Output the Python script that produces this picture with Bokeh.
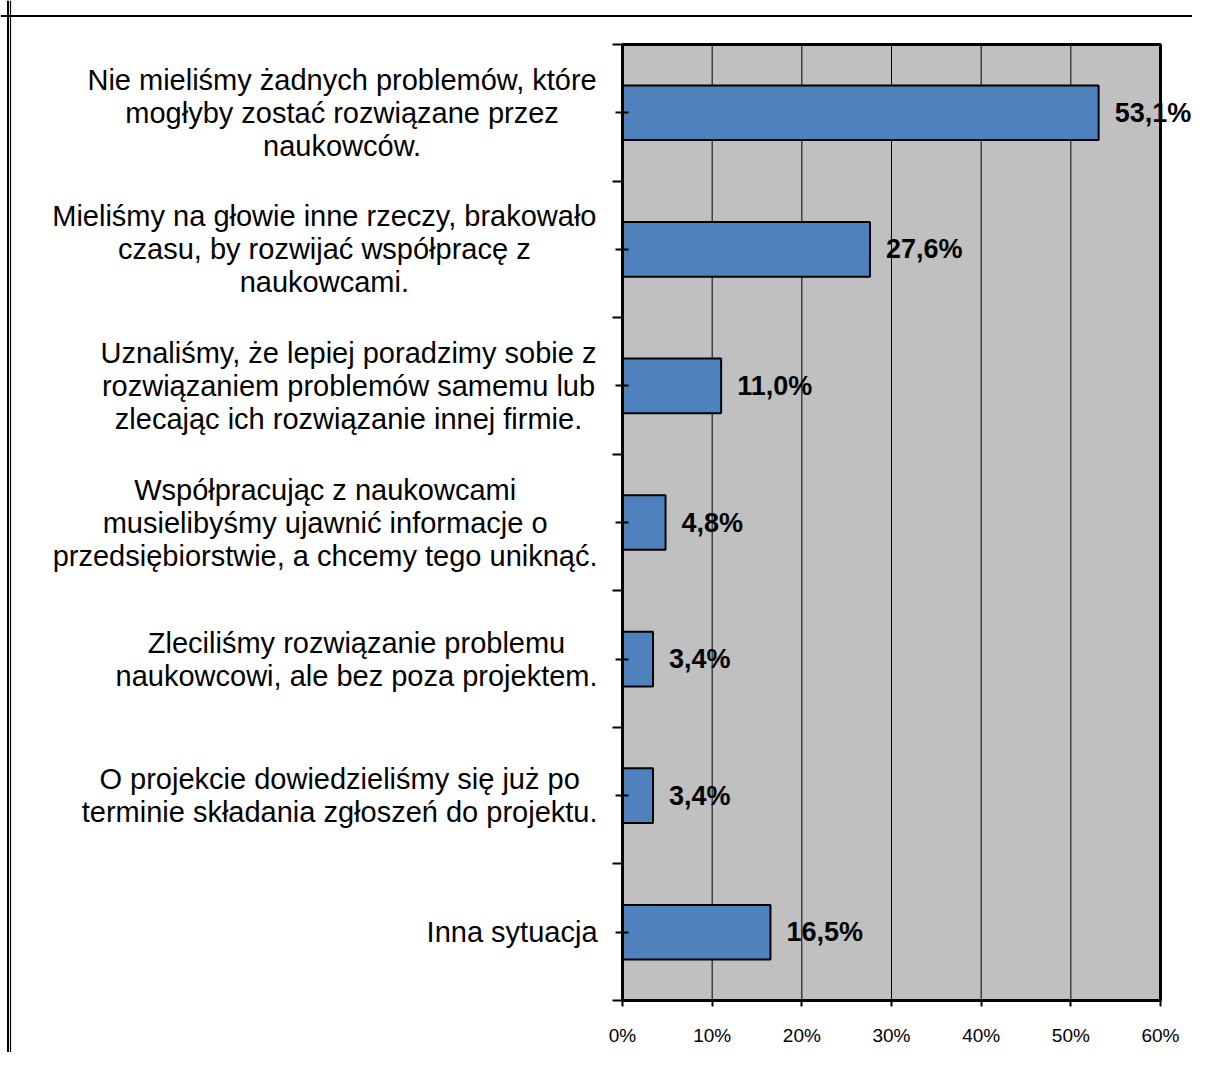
import numpy as np
from bokeh.plotting import figure
from bokeh.models import Range1d, FixedTicker, LinearAxis, Span, ColumnDataSource
from bokeh.core.properties import value
from bokeh.embed import file_html
from bokeh.resources import INLINE

# ---------------- data ----------------
categories = [
    "Nie mieliśmy żadnych problemów, które\nmogłyby zostać rozwiązane przez\nnaukowców.",
    "Mieliśmy na głowie inne rzeczy, brakowało\nczasu, by rozwijać współpracę z\nnaukowcami.",
    "Uznaliśmy, że lepiej poradzimy sobie z\nrozwiązaniem problemów samemu lub\nzlecając ich rozwiązanie innej firmie.",
    "Współpracując z naukowcami\nmusielibyśmy ujawnić informacje o\nprzedsiębiorstwie, a chcemy tego uniknąć.",
    "Zleciliśmy rozwiązanie problemu\nnaukowcowi, ale bez poza projektem.",
    "O projekcie dowiedzieliśmy się już po\nterminie składania zgłoszeń do projektu.",
    "Inna sytuacja",
]
values = [53.1, 27.6, 11.0, 4.8, 3.4, 3.4, 16.5]
value_labels = ["53,1%", "27,6%", "11,0%", "4,8%", "3,4%", "3,4%", "16,5%"]
x_ticks = [0, 10, 20, 30, 40, 50, 60]
x_tick_labels = ["0%", "10%", "20%", "30%", "40%", "50%", "60%"]

# ---------------- layout / style ----------------
FONT = "Liberation Sans"
CAT_SIZE = 29
BAR_COLOR = "#4F81BD"
BG = "#C0C0C0"
WIDTH, HEIGHT = 1192, 1052
# pixel box of the plotting area inside the canvas
PX_L, PX_R, PX_T, PX_B = 622, 1160, 44, 1000

n = len(categories)
xmin, xmax = x_ticks[0], x_ticks[-1]
ux = (PX_R - PX_L) / (xmax - xmin)      # px per x unit
uy = (PX_B - PX_T) / n                  # px per category
x_start = xmin - PX_L / ux
x_end = xmax + (WIDTH - PX_R) / ux
y_top = -PX_T / uy
y_bottom = n + (HEIGHT - PX_B) / uy

# Helvetica/Arial advance widths (per 1000 em) to estimate label block widths
W = {' ': 278, ',': 278, '.': 278, 'a': 556, 'b': 556, 'c': 500, 'd': 556, 'e': 556,
     'f': 278, 'g': 556, 'h': 556, 'i': 222, 'j': 222, 'k': 500, 'l': 222, 'm': 833,
     'n': 556, 'o': 556, 'p': 556, 'q': 556, 'r': 333, 's': 500, 't': 278, 'u': 556,
     'v': 500, 'w': 722, 'x': 500, 'y': 500, 'z': 500, 'ś': 500, 'ż': 500, 'ź': 500,
     'ą': 556, 'ę': 556, 'ć': 500, 'ł': 222, 'ń': 556, 'ó': 556,
     'N': 722, 'M': 833, 'U': 722, 'W': 944, 'Z': 611, 'O': 778, 'I': 278}


def text_width(s, size):
    return sum(W.get(ch, 556) for ch in s) / 1000.0 * size


ypos = np.arange(n) + 0.5

p = figure(width=WIDTH, height=HEIGHT, output_backend="svg", toolbar_location=None,
           x_range=Range1d(x_start, x_end), y_range=Range1d(y_bottom, y_top),
           x_axis_location=None, y_axis_location=None,
           min_border_left=0, min_border_right=0, min_border_top=0, min_border_bottom=0)
p.background_fill_color = "white"
p.border_fill_color = "white"
p.outline_line_color = None
p.grid.visible = False

# outer chart frame (top line, double left line)
p.add_layout(Span(location=(15.5 - PX_T) / uy, dimension="width", line_color="black", line_width=2))
p.add_layout(Span(location=xmin + (7.5 - PX_L) / ux, dimension="height", line_color="black", line_width=2))
p.add_layout(Span(location=xmin + (10 - PX_L) / ux, dimension="height", line_color="black", line_width=1.2))

# plot area
p.quad(left=xmin, right=xmax, top=0, bottom=n, fill_color=BG, line_color=None)
inner = x_ticks[1:-1]
p.segment(x0=inner, y0=[0] * len(inner), x1=inner, y1=[n] * len(inner),
          line_color="black", line_width=1)
p.quad(left=xmin, right=xmax, top=0, bottom=n, fill_color=None,
       line_color="black", line_width=3)

p.hbar(y=ypos, left=0, right=values, height=0.4, fill_color=BAR_COLOR,
       line_color="black", line_width=2)

# x axis
xa = LinearAxis(fixed_location=n, bounds=(xmin, xmax))
xa.ticker = FixedTicker(ticks=x_ticks)
xa.major_label_overrides = {t: l for t, l in zip(x_ticks, x_tick_labels)}
xa.axis_line_color = "black"
xa.axis_line_width = 3
xa.major_tick_line_color = "black"
xa.major_tick_line_width = 2
xa.major_tick_out = 6
xa.major_tick_in = 0
xa.minor_tick_line_color = None
xa.major_label_standoff = 18
xa.major_label_text_font = FONT
xa.major_label_text_font_size = "19px"
xa.major_label_text_color = "black"
p.add_layout(xa, "below")

# y axis (ticks only)
ya = LinearAxis(fixed_location=0, bounds=(0, n))
ya.ticker = FixedTicker(ticks=list(range(n + 1)), minor_ticks=list(ypos))
ya.major_label_overrides = {i: "" for i in range(n + 1)}
ya.axis_line_color = "black"
ya.axis_line_width = 3
ya.major_tick_line_color = "black"
ya.major_tick_line_width = 2
ya.major_tick_out = 10
ya.major_tick_in = 0
ya.minor_tick_line_color = "black"
ya.minor_tick_line_width = 2
ya.minor_tick_out = 7
ya.minor_tick_in = 6
p.add_layout(ya, "left")

# category labels: centered block whose right edge sits 25px left of the axis
lx, ly, lt, lo = [], [], [], []
line_gap = 33 / uy
for yc, cat in zip(ypos, categories):
    lines = cat.split("\n")
    w = max(text_width(s, CAT_SIZE) for s in lines)
    for k, s in enumerate(lines):
        lx.append(0)
        ly.append(yc + (k - (len(lines) - 1) / 2) * line_gap)
        lt.append(s)
        lo.append(-(25 + w / 2))
p.text(x="x", y="y", text="t", x_offset="o",
       source=ColumnDataSource(dict(x=lx, y=ly, t=lt, o=lo)),
       text_align="center", text_baseline="middle", text_font=value(FONT),
       text_font_size=f"{CAT_SIZE}px", text_color="black")

# value labels
p.text(x=values, y=ypos, text=value_labels, x_offset=16,
       text_baseline="middle", text_font=value(FONT), text_font_style="bold",
       text_font_size="27px", text_color="black")

open("out.html", "w").write(file_html(p, INLINE))
